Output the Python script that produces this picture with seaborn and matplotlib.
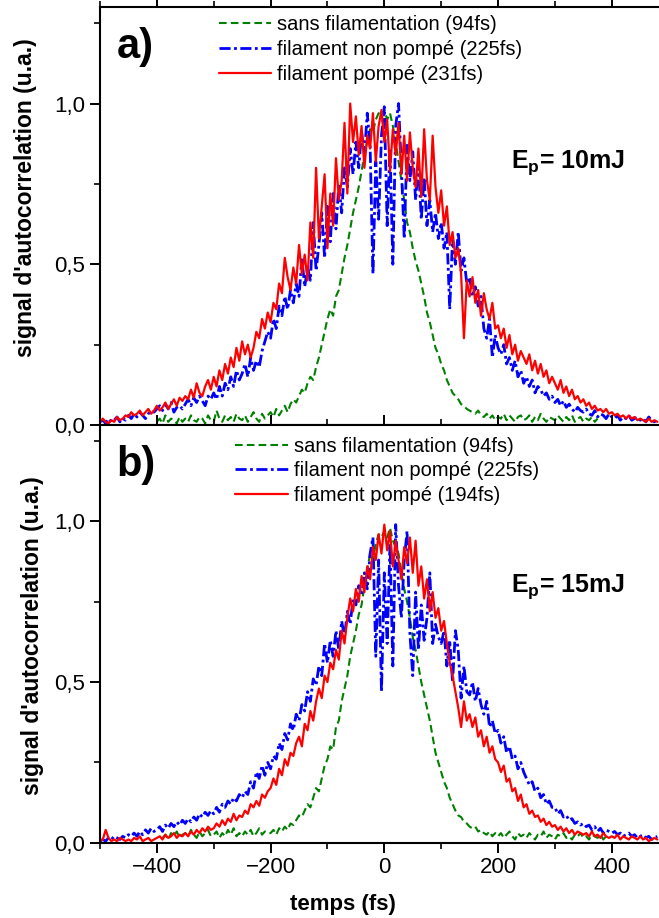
import numpy as np
import pandas as pd
import matplotlib
matplotlib.use("Agg")
import matplotlib.pyplot as plt
import seaborn as sns
from matplotlib.ticker import MultipleLocator, FixedFormatter, FixedLocator

sns.set_theme(style="ticks")
plt.rcParams["font.family"] = ["Liberation Sans", "DejaVu Sans"]
plt.rcParams["mathtext.fontset"] = "custom"
plt.rcParams["mathtext.rm"] = "Liberation Sans"
plt.rcParams["mathtext.bf"] = "Liberation Sans:bold"
plt.rcParams["lines.scale_dashes"] = False
for key in ["text.color", "axes.labelcolor", "xtick.color", "ytick.color",
            "xtick.labelcolor", "ytick.labelcolor"]:
    plt.rcParams[key] = "black"

nan = np.nan

# time axis: -500 .. 480 fs, sampled every 5 fs (one row below = 50 fs)
t_start, t_step, n_pts = -500, 5, 197
temps = t_start + t_step * np.arange(n_pts)

# ---------- panel a) Ep = 10 mJ ----------
green_a = [
    nan, nan, nan, nan, nan, nan, nan, nan, nan, nan,
    nan, nan, nan, nan, nan, nan, nan, nan, nan, nan,
    0.01, 0.02, 0.005, 0.03, 0.01, 0.02, 0.015, 0.005, 0.025, 0.01,
    0.02, 0.01, 0.03, 0.015, 0.01, 0.025, 0.02, 0.005, 0.03, 0.015,
    0.01, 0.045, 0.02, 0.01, 0.03, 0.015, 0.025, 0.01, 0.035, 0.02,
    0.015, 0.03, 0.01, 0.025, 0.04, 0.02, 0.01, 0.035, 0.02, 0.03,
    0.04, 0.025, 0.05, 0.03, 0.045, 0.06, 0.04, 0.065, 0.08, 0.07,
    0.09, 0.11, 0.10, 0.13, 0.15, 0.14, 0.18, 0.21, 0.25, 0.29,
    0.33, 0.36, 0.34, 0.40, 0.42, 0.47, 0.52, 0.56, 0.61, 0.66,
    0.70, 0.74, 0.79, 0.84, 0.88, 0.92, 0.91, 0.95, 0.97, 0.96,
    0.98, 0.95, 0.97, 0.93, 0.88, 0.82, 0.76, 0.70, 0.63, 0.60,
    0.55, 0.51, 0.48, 0.44, 0.40, 0.35, 0.32, 0.28, 0.24, 0.22,
    0.19, 0.17, 0.14, 0.12, 0.10, 0.09, 0.08, 0.065, 0.06, 0.05,
    0.045, 0.04, 0.035, 0.045, 0.03, 0.025, 0.035, 0.02, 0.03, 0.015,
    0.025, 0.02, 0.035, 0.015, 0.03, 0.02, 0.01, 0.025, 0.03, 0.015,
    0.02, 0.03, 0.01, 0.025, 0.015, 0.035, 0.02, 0.01, 0.025, 0.02,
    0.015, 0.03, 0.02, 0.01, 0.025, 0.015, 0.03, 0.01, 0.02, 0.025,
    0.01, 0.02, 0.015, 0.025, 0.01, 0.02, nan, nan, nan, nan,
    nan, nan, nan, nan, nan, nan, nan, nan, nan, nan,
    nan, nan, nan, nan, nan, nan, nan,
]
blue_a = [
    0.01, 0.015, 0.005, 0.02, 0.01, 0.015, 0.025, 0.01, 0.02, 0.015,
    0.03, 0.02, 0.035, 0.025, 0.04, 0.03, 0.02, 0.035, 0.045, 0.04,
    0.05, 0.06, 0.045, 0.065, 0.05, 0.07, 0.04, 0.055, 0.06, 0.05,
    0.065, 0.08, 0.06, 0.085, 0.07, 0.09, 0.075, 0.06, 0.09, 0.08,
    0.10, 0.08, 0.12, 0.09, 0.13, 0.11, 0.15, 0.12, 0.17, 0.14,
    0.16, 0.19, 0.15, 0.21, 0.17, 0.20, 0.18, 0.23, 0.26, 0.29,
    0.27, 0.33, 0.30, 0.37, 0.34, 0.40, 0.36, 0.42, 0.38, 0.44,
    0.40, 0.52, 0.43, 0.49, 0.45, 0.63, 0.48, 0.56, 0.66, 0.52,
    0.68, 0.57, 0.72, 0.61, 0.75, 0.66, 0.80, 0.74, 0.86, 0.78,
    0.88, 0.80, 0.91, 0.84, 0.97, 0.87, 0.47, 0.82, 0.64, 0.90,
    0.99, 0.62, 0.86, 0.50, 0.93, 1.00, 0.80, 0.58, 0.87, 0.76,
    0.85, 0.70, 0.81, 0.64, 0.77, 0.62, 0.70, 0.60, 0.66, 0.58,
    0.63, 0.55, 0.60, 0.36, 0.58, 0.50, 0.60, 0.48, 0.52, 0.44,
    0.46, 0.40, 0.43, 0.37, 0.40, 0.30, 0.27, 0.33, 0.21, 0.28,
    0.24, 0.22, 0.25, 0.19, 0.21, 0.17, 0.20, 0.15, 0.17, 0.13,
    0.15, 0.12, 0.14, 0.10, 0.12, 0.11, 0.09, 0.10, 0.08, 0.09,
    0.07, 0.08, 0.06, 0.075, 0.055, 0.065, 0.05, 0.04, 0.055, 0.045,
    0.04, 0.05, 0.035, 0.03, 0.045, 0.025, 0.035, 0.03, 0.02, 0.035,
    0.025, 0.02, 0.03, 0.015, 0.025, 0.02, 0.03, 0.015, 0.02, 0.025,
    0.015, 0.02, 0.01, 0.025, 0.015, 0.01, 0.02,
]
red_a = [
    0.01, 0.02, 0.01, 0.005, 0.015, 0.01, 0.025, 0.015, 0.02, 0.03,
    0.025, 0.04, 0.03, 0.035, 0.045, 0.03, 0.04, 0.05, 0.035, 0.045,
    0.06, 0.045, 0.055, 0.07, 0.05, 0.065, 0.08, 0.06, 0.085, 0.075,
    0.09, 0.08, 0.11, 0.085, 0.13, 0.10, 0.09, 0.12, 0.14, 0.11,
    0.15, 0.12, 0.17, 0.14, 0.19, 0.16, 0.21, 0.18, 0.24, 0.20,
    0.26, 0.22, 0.25, 0.21, 0.24, 0.29, 0.27, 0.33, 0.30, 0.35,
    0.32, 0.38, 0.36, 0.44, 0.41, 0.52, 0.46, 0.42, 0.49, 0.44,
    0.56, 0.47, 0.53, 0.45, 0.63, 0.52, 0.80, 0.58, 0.68, 0.78,
    0.55, 0.72, 0.62, 0.83, 0.70, 0.76, 0.94, 0.72, 1.00, 0.88,
    0.96, 0.84, 0.93, 0.80, 0.90, 0.86, 0.97, 0.82, 0.93, 0.98,
    0.88, 0.95, 0.79, 0.92, 0.84, 0.94, 0.78, 0.90, 0.76, 0.91,
    0.80, 0.74, 0.86, 0.71, 0.92, 0.76, 0.70, 0.90, 0.74, 0.66,
    0.73, 0.62, 0.68, 0.56, 0.60, 0.52, 0.55, 0.47, 0.27, 0.45,
    0.40, 0.46, 0.38, 0.42, 0.34, 0.41, 0.36, 0.33, 0.38, 0.30,
    0.31, 0.27, 0.30, 0.24, 0.28, 0.22, 0.25, 0.20, 0.23, 0.21,
    0.19, 0.22, 0.17, 0.20, 0.16, 0.19, 0.15, 0.17, 0.13, 0.15,
    0.13, 0.11, 0.14, 0.10, 0.12, 0.09, 0.11, 0.08, 0.09, 0.07,
    0.08, 0.06, 0.07, 0.05, 0.06, 0.045, 0.05, 0.04, 0.05, 0.035,
    0.04, 0.03, 0.035, 0.025, 0.03, 0.02, 0.03, 0.02, 0.025, 0.015,
    0.02, 0.015, 0.01, 0.02, 0.01, 0.015, 0.01,
]

# ---------- panel b) Ep = 15 mJ ----------
green_b = [
    nan, nan, nan, nan, nan, nan, nan, nan, nan, nan,
    nan, nan, nan, nan, nan, nan, nan, nan, nan, nan,
    nan, nan, 0.015, 0.025, 0.01, 0.03, 0.02, 0.035, 0.015, 0.025,
    0.03, 0.02, 0.04, 0.025, 0.015, 0.035, 0.02, 0.03, 0.04, 0.02,
    0.025, 0.035, 0.015, 0.03, 0.02, 0.04, 0.025, 0.045, 0.02, 0.03,
    0.02, 0.035, 0.025, 0.04, 0.02, 0.03, 0.045, 0.025, 0.035, 0.03,
    0.03, 0.04, 0.025, 0.045, 0.035, 0.05, 0.04, 0.06, 0.055, 0.07,
    0.085, 0.08, 0.10, 0.12, 0.11, 0.14, 0.17, 0.16, 0.20, 0.24,
    0.26, 0.30, 0.29, 0.36, 0.38, 0.44, 0.48, 0.52, 0.58, 0.62,
    0.66, 0.71, 0.74, 0.80, 0.85, 0.90, 0.88, 0.93, 0.96, 0.95,
    0.97, 0.95, 0.98, 0.94, 0.92, 0.90, 0.84, 0.79, 0.75, 0.70,
    0.64, 0.60, 0.55, 0.50, 0.46, 0.42, 0.38, 0.33, 0.28, 0.25,
    0.22, 0.19, 0.17, 0.14, 0.12, 0.10, 0.085, 0.08, 0.065, 0.06,
    0.05, 0.045, 0.05, 0.035, 0.04, 0.03, 0.025, 0.035, 0.02, 0.03,
    0.02, 0.03, 0.015, 0.025, 0.035, 0.02, 0.01, 0.03, 0.02, 0.025,
    0.015, 0.03, 0.02, 0.01, 0.025, 0.02, 0.035, 0.015, 0.025, 0.02,
    0.01, 0.025, 0.02, 0.03, 0.015, 0.02, 0.01, 0.025, 0.02, 0.03,
    0.015, 0.02, 0.01, 0.025, 0.02, 0.015, 0.025, 0.01, 0.02, 0.015,
    nan, nan, nan, nan, nan, nan, nan, nan, nan, nan,
    nan, nan, nan, nan, nan, nan, nan,
]
blue_b = [
    0.005, 0.01, 0.005, 0.015, 0.01, 0.02, 0.015, 0.01, 0.02, 0.015,
    0.025, 0.02, 0.03, 0.02, 0.035, 0.025, 0.04, 0.03, 0.045, 0.035,
    0.04, 0.05, 0.035, 0.055, 0.045, 0.06, 0.05, 0.065, 0.055, 0.07,
    0.06, 0.075, 0.065, 0.08, 0.07, 0.09, 0.08, 0.095, 0.085, 0.10,
    0.09, 0.11, 0.095, 0.12, 0.11, 0.13, 0.12, 0.14, 0.13, 0.15,
    0.14, 0.16, 0.15, 0.19, 0.17, 0.22, 0.20, 0.24, 0.21, 0.25,
    0.23, 0.27, 0.26, 0.31, 0.29, 0.34, 0.32, 0.37, 0.35, 0.40,
    0.38, 0.43, 0.41, 0.47, 0.44, 0.51, 0.49, 0.55, 0.52, 0.62,
    0.56, 0.63, 0.58, 0.66, 0.60, 0.69, 0.64, 0.72, 0.68, 0.76,
    0.74, 0.80, 0.77, 0.84, 0.79, 0.90, 0.95, 0.58, 0.88, 0.47,
    0.84, 0.62, 0.93, 0.55, 0.99, 0.80, 0.70, 0.88, 0.97, 0.65,
    0.52, 0.78, 0.60, 0.74, 0.63, 0.70, 0.84, 0.62, 0.68, 0.64,
    0.62, 0.66, 0.55, 0.63, 0.50, 0.66, 0.60, 0.45, 0.55, 0.47,
    0.46, 0.50, 0.44, 0.48, 0.43, 0.40, 0.44, 0.36, 0.38, 0.34,
    0.35, 0.31, 0.33, 0.28, 0.30, 0.26, 0.27, 0.23, 0.25, 0.22,
    0.20, 0.18, 0.19, 0.16, 0.17, 0.14, 0.15, 0.12, 0.13, 0.11,
    0.11, 0.09, 0.10, 0.08, 0.085, 0.07, 0.075, 0.06, 0.065, 0.055,
    0.06, 0.05, 0.055, 0.04, 0.05, 0.035, 0.045, 0.03, 0.04, 0.035,
    0.03, 0.035, 0.025, 0.03, 0.02, 0.025, 0.03, 0.02, 0.025, 0.015,
    0.02, 0.025, 0.015, 0.02, 0.01, 0.015, 0.02,
]
red_b = [
    0.005, 0.01, 0.04, 0.015, 0.005, 0.01, 0.005, 0.015, 0.01, 0.005,
    0.01, 0.005, 0.015, 0.01, 0.02, 0.005, 0.01, 0.015, 0.005, 0.01,
    0.015, 0.02, 0.01, 0.025, 0.015, 0.02, 0.03, 0.015, 0.025, 0.02,
    0.03, 0.02, 0.035, 0.025, 0.04, 0.03, 0.045, 0.035, 0.05, 0.04,
    0.045, 0.06, 0.05, 0.07, 0.055, 0.075, 0.065, 0.09, 0.07, 0.085,
    0.08, 0.10, 0.09, 0.12, 0.11, 0.13, 0.115, 0.15, 0.14, 0.16,
    0.17, 0.20, 0.18, 0.23, 0.21, 0.26, 0.24, 0.28, 0.27, 0.31,
    0.33, 0.30, 0.37, 0.35, 0.41, 0.38, 0.44, 0.48, 0.45, 0.52,
    0.50, 0.56, 0.54, 0.60, 0.57, 0.66, 0.62, 0.70, 0.76, 0.72,
    0.79, 0.75, 0.83, 0.78, 0.86, 0.82, 0.92, 0.88, 0.96, 0.90,
    0.99, 0.91, 0.97, 0.86, 0.94, 0.88, 0.82, 0.92, 0.87, 0.95,
    0.84, 0.94, 0.80, 0.86, 0.76, 0.82, 0.72, 0.78, 0.70, 0.73,
    0.66, 0.69, 0.62, 0.56, 0.52, 0.47, 0.42, 0.36, 0.44, 0.38,
    0.40, 0.36, 0.39, 0.33, 0.35, 0.30, 0.33, 0.28, 0.30, 0.26,
    0.25, 0.22, 0.24, 0.19, 0.20, 0.16, 0.17, 0.13, 0.15, 0.11,
    0.12, 0.09, 0.10, 0.08, 0.085, 0.065, 0.075, 0.055, 0.065, 0.05,
    0.055, 0.04, 0.05, 0.035, 0.045, 0.03, 0.04, 0.025, 0.035, 0.03,
    0.025, 0.03, 0.02, 0.035, 0.02, 0.025, 0.015, 0.03, 0.02, 0.015,
    0.02, 0.015, 0.025, 0.01, 0.02, 0.015, 0.01, 0.02, 0.015, 0.01,
    0.02, 0.01, 0.015, 0.005, 0.01, 0.015, 0.01,
]

labels_a = ["sans filamentation (94fs)", "filament non pompé (225fs)", "filament pompé (231fs)"]
labels_b = ["sans filamentation (94fs)", "filament non pompé (225fs)", "filament pompé (194fs)"]
panel_tags = ["a)", "b)"]
energies = ["10mJ", "15mJ"]

colors = ["#008000", "#0000ff", "#ff0000"]
styles = [(0, (5.5, 3.0)), (0, (8.0, 2.5, 2.0, 2.5)), "-"]
widths = [1.5, 2.0, 1.6]

fig = plt.figure(figsize=(6.59, 9.18), dpi=100)
ax_a = fig.add_axes([0.1517, 0.5370, 0.8483, 0.4553])
ax_b = fig.add_axes([0.1517, 0.0820, 0.8483, 0.4550])

panels = [
    (ax_a, [green_a, blue_a, red_a], labels_a, (0.205, 0.99), -0.113, 0.545, 0.615),
    (ax_b, [green_b, blue_b, red_b], labels_b, (0.235, 0.982), -0.101, 0.495, 0.600),
]

for i, (ax, series, labels, leg_pos, ylab_x, ylab_y, ep_y) in enumerate(panels):
    for vals, lab, c, ls, lw in zip(series, labels, colors, styles, widths):
        df = pd.DataFrame({"temps": temps, "signal": vals}).dropna()
        sns.lineplot(data=df, x="temps", y="signal", ax=ax, color=c,
                     linestyle=ls, linewidth=lw, label=lab)

    ax.set_xlim(-500, 483)
    ax.set_ylim(0, 1.3)
    ax.yaxis.set_major_locator(FixedLocator([0, 0.5, 1.0]))
    ax.yaxis.set_major_formatter(FixedFormatter(["0,0", "0,5", "1,0"]))
    ax.yaxis.set_minor_locator(FixedLocator([0.25, 0.75, 1.25]))
    ax.xaxis.set_major_locator(MultipleLocator(200))
    ax.xaxis.set_minor_locator(MultipleLocator(100))

    for side in ["left", "top", "bottom"]:
        ax.spines[side].set_linewidth(1.5)
        ax.spines[side].set_color("black")
    ax.spines["right"].set_visible(False)

    ax.tick_params(axis="both", which="major", direction="out", length=7, width=1.4,
                   labelsize=16, colors="black", top=True)
    ax.tick_params(axis="both", which="minor", direction="out", length=4, width=1.2,
                   colors="black", top=True)

    ax.set_ylabel("signal d'autocorrelation (u.a.)", fontsize=16.5, fontweight="bold",
                  color="black")
    ax.yaxis.set_label_coords(ylab_x, ylab_y)

    ax.text(0.03, 0.905, panel_tags[i], transform=ax.transAxes, color="black",
            fontsize=30, fontweight="bold", va="center", ha="left")
    ax.text(0.735, ep_y, r"$\mathbf{E_p}$= " + energies[i], transform=ax.transAxes,
            color="black", fontsize=18, fontweight="bold", va="baseline", ha="left")

    leg = ax.legend(loc="upper left", bbox_to_anchor=leg_pos, frameon=False,
                    fontsize=14.5, handlelength=2.6, handletextpad=0.3,
                    labelspacing=0.28, borderpad=0.2, borderaxespad=0)
    for txt in leg.get_texts():
        txt.set_color("black")

ax_a.tick_params(axis="x", which="both", labelbottom=False)
ax_a.set_xlabel("")
ax_b.set_xlabel("temps (fs)", fontsize=16, fontweight="bold", color="black")
ax_b.xaxis.set_label_coords(0.435, -0.122)

fig.savefig("out.png", dpi=100)
